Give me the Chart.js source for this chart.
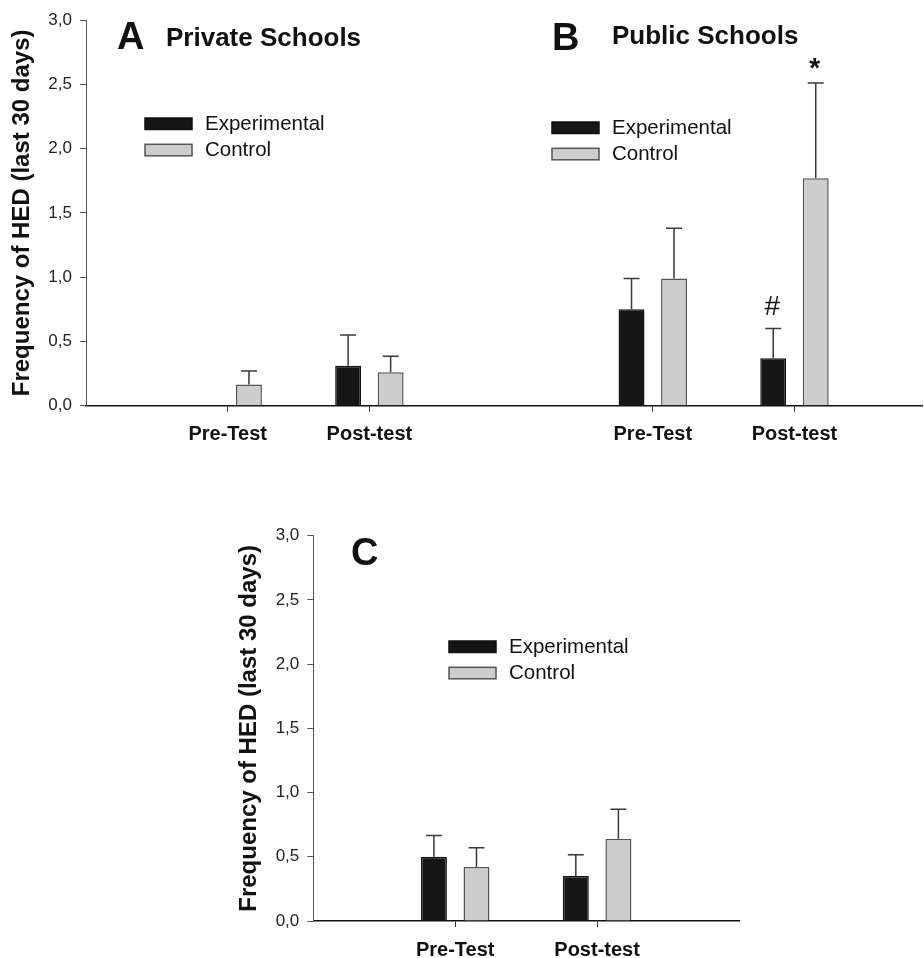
<!DOCTYPE html>
<html>
<head>
<meta charset="utf-8">
<script src="https://cdn.jsdelivr.net/npm/chart.js@4"></script>
<style>
  body { margin: 0; background: #fff; }
  #wrap { position: relative; width: 924px; height: 958px; overflow: hidden; }
  canvas { position: absolute; left: 0; }
</style>
</head>
<body>
<div id="wrap">
  <canvas id="topChart" width="924" height="470" style="top:0;width:924px;height:470px"></canvas>
  <canvas id="bottomChart" width="924" height="488" style="top:470px;width:924px;height:488px"></canvas>
</div>
<script>
// panels A + B (private / public schools), same axis
const topX = [1, 2, 4, 5];
const topLabels = ['Pre-Test', 'Post-test', 'Pre-Test', 'Post-test'];
const topExp = [0, 0.31, 0.75, 0.37];
const topExpErr = [0, 0.24, 0.24, 0.23];
const topCtl = [0.165, 0.26, 0.99, 1.77];
const topCtlErr = [0.105, 0.125, 0.39, 0.74];
const topExpMarks = ['', '', '', '#'];
const topCtlMarks = ['', '', '', '*'];

// panel C (all schools)
const botX = [1, 2];
const botLabels = ['Pre-Test', 'Post-test'];
const botExp = [0.50, 0.35];
const botExpErr = [0.165, 0.165];
const botCtl = [0.42, 0.64];
const botCtlErr = [0.15, 0.23];

const yTicks = [0, 0.5, 1, 1.5, 2, 2.5, 3];
const seriesNames = ['Experimental', 'Control'];

Chart.defaults.font.family = "'Liberation Sans', Arial, sans-serif";
Chart.defaults.color = '#1a1a1a';

// error bars (upper only) + significance marks
const errorBars = {
  id: 'errorBars',
  afterDatasetsDraw(chart) {
    const ctx = chart.ctx;
    const yScale = chart.scales.y;
    chart.data.datasets.forEach((ds, di) => {
      const meta = chart.getDatasetMeta(di);
      meta.data.forEach((bar, i) => {
        const v = ds.data[i].y;
        const e = ds.errors[i];
        if (!e) return;
        const yTop = yScale.getPixelForValue(v + e);
        ctx.save();
        ctx.strokeStyle = '#3a3a3a';
        ctx.lineWidth = 1.5;
        ctx.beginPath();
        ctx.moveTo(bar.x, bar.y);
        ctx.lineTo(bar.x, yTop);
        ctx.moveTo(bar.x - 8, yTop);
        ctx.lineTo(bar.x + 8, yTop);
        ctx.stroke();
        const mark = ds.marks && ds.marks[i];
        if (mark) {
          ctx.fillStyle = '#111';
          ctx.font = (mark === '*' ? 'bold ' : '') + "28px 'Liberation Sans', Arial";
          ctx.textAlign = 'center';
          ctx.textBaseline = 'alphabetic';
          const m = ctx.measureText(mark);
          ctx.fillText(mark, bar.x - 1, yTop - 14 - m.actualBoundingBoxDescent);
        }
        ctx.restore();
      });
    });
  }
};

// boxed legend + panel titles
const panelDecor = {
  id: 'panelDecor',
  afterDraw(chart, args, opts) {
    const ctx = chart.ctx;
    ctx.save();
    (opts.legends || []).forEach(pos => {
      chart.data.datasets.forEach((ds, di) => {
        const y = pos.y + di * 26.3;
        ctx.fillStyle = ds.backgroundColor;
        ctx.fillRect(pos.x, y, 47, 11.5);
        ctx.strokeStyle = ds.borderColor;
        ctx.lineWidth = 1.5;
        ctx.strokeRect(pos.x, y, 47, 11.5);
        ctx.fillStyle = '#111';
        ctx.font = "20.5px 'Liberation Sans', Arial";
        ctx.textAlign = 'left';
        ctx.textBaseline = 'middle';
        ctx.fillText(ds.label, pos.x + 60, y + 6.5);
      });
    });
    (opts.texts || []).forEach(t => {
      ctx.fillStyle = '#111';
      ctx.font = t.font;
      ctx.textAlign = 'left';
      ctx.textBaseline = 'alphabetic';
      ctx.fillText(t.text, t.x, t.y);
    });
    ctx.restore();
  }
};

function makeDatasets(xs, exp, expErr, ctl, ctlErr, expMarks, ctlMarks) {
  return [
    {
      label: seriesNames[0],
      data: xs.map((x, i) => ({x: x, y: exp[i]})),
      errors: expErr,
      marks: expMarks,
      backgroundColor: '#161616',
      borderColor: '#111',
      borderWidth: 1.5,
      borderSkipped: 'start'
    },
    {
      label: seriesNames[1],
      data: xs.map((x, i) => ({x: x, y: ctl[i]})),
      errors: ctlErr,
      marks: ctlMarks,
      backgroundColor: '#cdcdcd',
      borderColor: '#555',
      borderWidth: 1.5,
      borderSkipped: 'start'
    }
  ];
}

function makeChart(id, xs, labels, datasets, xMax, padding, xHeight, decor) {
  return new Chart(document.getElementById(id), {
    type: 'bar',
    data: { datasets: datasets },
    options: {
      responsive: false,
      animation: false,
      devicePixelRatio: 1,
      categoryPercentage: 0.6,
      barPercentage: 0.61,
      layout: { padding: padding },
      plugins: {
        legend: { display: false },
        tooltip: { enabled: false },
        panelDecor: decor
      },
      scales: {
        x: {
          type: 'linear',
          min: 0,
          max: xMax,
          offset: false,
          afterBuildTicks: s => { s.ticks = xs.map(v => ({value: v})); },
          afterFit: s => { s.height = xHeight; },
          ticks: {
            autoSkip: false,
            maxRotation: 0,
            padding: 11,
            color: '#111',
            font: { size: 20, weight: 'bold' },
            callback: v => labels[xs.indexOf(v)] || ''
          },
          grid: { offset: false, drawOnChartArea: false, drawTicks: true, tickLength: 6, color: '#333' },
          border: { color: '#111', width: 1.5 }
        },
        y: {
          min: 0,
          max: 3,
          afterBuildTicks: s => { s.ticks = yTicks.map(v => ({value: v})); },
          afterFit: s => { s.width = 86; },
          ticks: {
            padding: 8,
            color: '#222',
            font: { size: 17 },
            callback: v => v.toFixed(1).replace('.', ',')
          },
          grid: { drawOnChartArea: false, drawTicks: true, tickLength: 6, color: '#555' },
          border: { color: '#555', width: 1 },
          title: {
            display: true,
            text: 'Frequency of HED (last 30 days)',
            color: '#111',
            font: { size: 24, weight: 'bold' },
            padding: { top: 8, bottom: 0 }
          }
        }
      }
    },
    plugins: [errorBars, panelDecor]
  });
}

makeChart('topChart', topX, topLabels,
  makeDatasets(topX, topExp, topExpErr, topCtl, topCtlErr, topExpMarks, topCtlMarks),
  5.9, { left: 0, top: 20, right: 2, bottom: 0 }, 64.3,
  {
    legends: [{ x: 145, y: 118 }, { x: 552, y: 122 }],
    texts: [
      { text: 'A', x: 117, y: 49, font: "bold 38px 'Liberation Sans', Arial" },
      { text: 'Private Schools', x: 166, y: 46, font: "bold 26px 'Liberation Sans', Arial" },
      { text: 'B', x: 552, y: 50, font: "bold 38px 'Liberation Sans', Arial" },
      { text: 'Public Schools', x: 612, y: 44, font: "bold 26px 'Liberation Sans', Arial" }
    ]
  });

makeChart('bottomChart', botX, botLabels,
  makeDatasets(botX, botExp, botExpErr, botCtl, botCtlErr, null, null),
  3, { left: 227.3, top: 65.7, right: 185, bottom: 0 }, 37,
  {
    legends: [{ x: 449, y: 171 }],
    texts: [
      { text: 'C', x: 351, y: 95, font: "bold 38px 'Liberation Sans', Arial" }
    ]
  });
</script>
</body>
</html>
